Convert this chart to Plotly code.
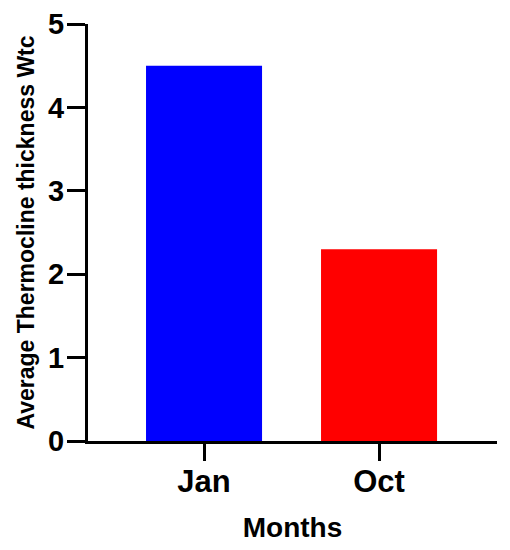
import plotly.graph_objects as go

months = ["Jan", "Oct"]
thickness = [4.5, 2.3]
bar_colors = ["#0000FF", "#FF0000"]
y_ticks = [0, 1, 2, 3, 4, 5]

fig = go.Figure(
    go.Bar(x=months, y=thickness, marker=dict(color=bar_colors, line=dict(width=0)))
)

font_family = "Liberation Sans, Arial, sans-serif"

fig.update_layout(
    width=510,
    height=550,
    margin=dict(l=88, r=13, t=24, b=109, autoexpand=False),
    paper_bgcolor="white",
    plot_bgcolor="white",
    bargap=0.337,
    showlegend=False,
    font=dict(family=font_family, color="black"),
)

fig.update_xaxes(
    range=[-0.663, 1.674],
    automargin=False,
    showline=True,
    linecolor="black",
    linewidth=3,
    ticks="outside",
    ticklen=17,
    tickwidth=3,
    tickcolor="black",
    showgrid=False,
    zeroline=False,
    tickfont=dict(family=font_family, size=31, color="black", weight="bold"),
    ticklabelstandoff=-6,
    title=dict(text="<b>Months</b>", font=dict(family=font_family, size=28, color="black"), standoff=20),
)

fig.update_yaxes(
    range=[0, 5],
    automargin=False,
    tickvals=y_ticks,
    showline=True,
    linecolor="black",
    linewidth=3,
    ticks="outside",
    ticklen=18,
    tickwidth=3,
    tickcolor="black",
    showgrid=False,
    zeroline=False,
    tickfont=dict(family=font_family, size=29, color="black", weight="bold"),
    ticklabelstandoff=-3,
    title=dict(text="<b>Average Thermocline thickness Wtc</b>", font=dict(family=font_family, size=23, color="black"), standoff=8),
)

fig.write_html(
    "out.html",
    config={"displayModeBar": False},
    post_script="document.body.style.margin='0';document.body.style.overflow='hidden';",
)
